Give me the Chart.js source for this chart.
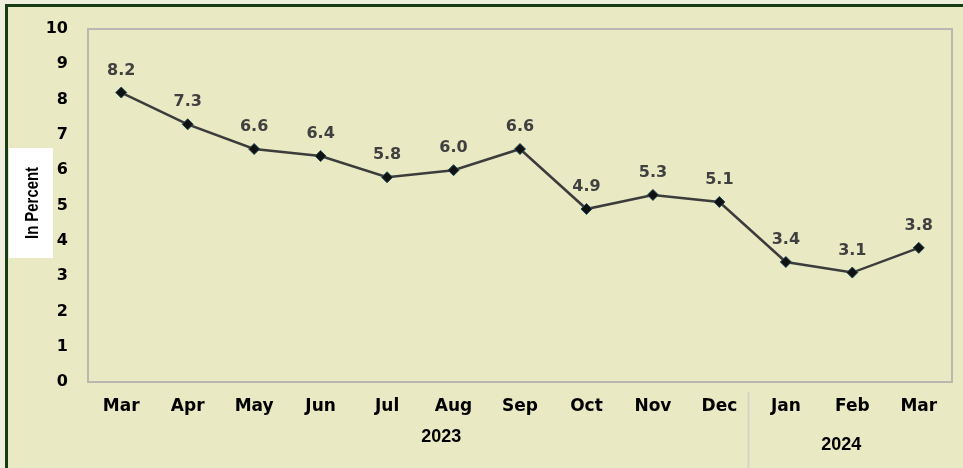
<!DOCTYPE html>
<html>
<head>
<meta charset="utf-8">
<script src="https://cdn.jsdelivr.net/npm/chart.js@4"></script>
<style>
  html, body { margin: 0; padding: 0; background: #eef0dd; }
  #wrap { width: 963px; height: 468px; position: relative; }
</style>
</head>
<body>
<div id="wrap"><canvas id="chart1" width="963" height="468"></canvas></div>
<script>
// data
const months = ['Mar', 'Apr', 'May', 'Jun', 'Jul', 'Aug', 'Sep', 'Oct', 'Nov', 'Dec', 'Jan', 'Feb', 'Mar'];
const rates = [8.2, 7.3, 6.6, 6.4, 5.8, 6.0, 6.6, 4.9, 5.3, 5.1, 3.4, 3.1, 3.8];
const years = ['2023', '2024'];
const yearStart = [0, 10];
const yearEnd = [9, 12];
const yTicks = [0, 1, 2, 3, 4, 5, 6, 7, 8, 9, 10];

// background, frame, labels, year groups
const decor = {
  id: 'decor',
  beforeDraw(chart) {
    const c = chart.ctx;
    c.save();
    c.fillStyle = '#eef0dd';
    c.fillRect(0, 0, chart.width, chart.height);
    c.fillStyle = '#e9e9c3';
    c.fillRect(6, 5, chart.width - 6, chart.height - 5);
    c.fillStyle = '#173d17';
    c.fillRect(5, 4, 3, chart.height - 4);
    c.fillRect(5, 4, chart.width - 5, 3);
    // y title box (under the tick labels)
    c.fillStyle = '#ffffff';
    c.fillRect(9, 148, 44, 110);
    c.translate(33, 203);
    c.rotate(-Math.PI / 2);
    c.fillStyle = '#000';
    c.font = 'bold 18px "Liberation Sans", Arial, sans-serif';
    c.textAlign = 'center';
    c.textBaseline = 'middle';
    const w = c.measureText('In Percent').width;
    c.scale(72 / w, 1);
    c.fillText('In Percent', 0, 0);
    c.restore();
  },
  afterDraw(chart) {
    const c = chart.ctx;
    const a = chart.chartArea;
    const x = chart.scales.x;
    c.save();
    // plot border
    c.strokeStyle = '#b8b8b0';
    c.lineWidth = 2;
    c.strokeRect(a.left, a.top, a.right - a.left, a.bottom - a.top);

    // year groups
    const sep = (x.getPixelForValue(9) + x.getPixelForValue(10)) / 2 - 4;
    c.strokeStyle = '#d4d4cc';
    c.lineWidth = 2;
    c.beginPath();
    c.moveTo(sep, 392);
    c.lineTo(sep, chart.height);
    c.stroke();
    c.fillStyle = '#000';
    c.font = 'bold 18px "Liberation Sans", Arial, sans-serif';
    c.textAlign = 'center';
    c.textBaseline = 'middle';
    const mid0 = (x.getPixelForValue(yearStart[0]) + x.getPixelForValue(yearEnd[0])) / 2;
    const mid1 = (x.getPixelForValue(yearStart[1]) + x.getPixelForValue(yearEnd[1])) / 2;
    c.fillText(years[0], mid0 + 21, 437);
    c.fillText(years[1], mid1 - 11, 445);

    // value labels
    const meta = chart.getDatasetMeta(0);
    c.fillStyle = '#404040';
    c.font = 'bold 16px "DejaVu Sans", sans-serif';
    meta.data.forEach((pt, i) => {
      c.fillText(rates[i].toFixed(1), pt.x, pt.y - 22);
    });
    c.restore();
  }
};

const ctx = document.getElementById('chart1').getContext('2d');
let line = new Chart(ctx, {
  type: 'line',
  data: {
    labels: months,
    datasets: [{
      data: rates,
      borderColor: '#3c3c3c',
      borderWidth: 2.5,
      pointStyle: 'rectRot',
      pointRadius: 5.5,
      pointBackgroundColor: '#111',
      pointBorderColor: '#1d4a5a',
      pointBorderWidth: 1,
      tension: 0
    }]
  },
  options: {
    responsive: false,
    animation: false,
    layout: { padding: { left: 8, right: 11, top: 29, bottom: 0 } },
    plugins: { legend: { display: false }, tooltip: { enabled: false } },
    scales: {
      x: {
        offset: true,
        grid: { display: false },
        border: { display: false },
        ticks: {
          color: '#000',
          padding: 6,
          maxRotation: 0,
          autoSkip: false,
          font: { family: 'DejaVu Sans', size: 17, weight: 'bold' }
        },
        afterFit(s) { s.height = 86; }
      },
      y: {
        min: 0,
        max: 10,
        grid: { display: false },
        border: { display: false },
        afterBuildTicks(s) { s.ticks = yTicks.map(v => ({ value: v })); },
        ticks: {
          color: '#000',
          padding: 12,
          font: { family: 'DejaVu Sans', size: 16, weight: 'bold' }
        },
        afterFit(s) { s.width = 80; }
      }
    }
  },
  plugins: [decor]
});
</script>
</body>
</html>
